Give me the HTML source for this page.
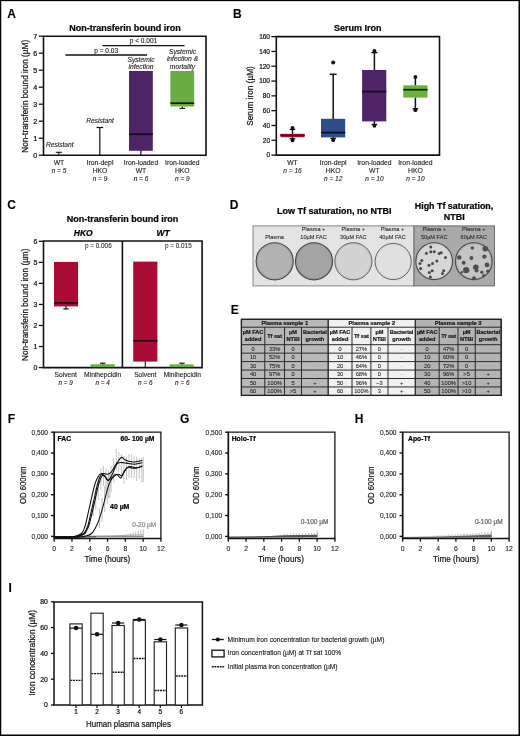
<!DOCTYPE html>
<html><head><meta charset="utf-8"><title>Figure</title>
<style>
html,body{margin:0;padding:0;background:#fff;}
body{width:520px;height:736px;overflow:hidden;position:relative;font-family:"Liberation Sans",sans-serif;}
svg{position:absolute;left:0;top:0;display:block;}
svg text{font-family:"Liberation Sans",sans-serif;}
#frame{position:absolute;left:0;top:0;width:520px;height:736px;box-sizing:border-box;border-style:solid;border-color:#000;border-width:1.2px 1.6px 1.7px 1.35px;pointer-events:none;}
</style></head><body>
<svg width="520" height="736" viewBox="0 0 520 736" style="filter:blur(0.35px)">
<!-- Panel A -->
<text x="7.3" y="17.6" font-size="12" text-anchor="start" fill="#000" stroke="#000" stroke-width="0.1" font-weight="bold" >A</text>
<text x="125.0" y="30.7" font-size="9" text-anchor="middle" fill="#000" stroke="#000" stroke-width="0.22" font-weight="bold" >Non-transferin bound iron</text>
<path d="M43.5 36.3H206V155.2H43.5Z" fill="none" stroke="#111" stroke-width="1.6"/>
<line x1="38.8" y1="155.2" x2="43.5" y2="155.2" stroke="#111" stroke-width="1.3" />
<text x="37.3" y="157.79999999999998" font-size="7.2" text-anchor="end" fill="#111" stroke="#111" stroke-width="0.22" >0</text>
<line x1="38.8" y1="138.2" x2="43.5" y2="138.2" stroke="#111" stroke-width="1.3" />
<text x="37.3" y="140.79999999999998" font-size="7.2" text-anchor="end" fill="#111" stroke="#111" stroke-width="0.22" >1</text>
<line x1="38.8" y1="121.19999999999999" x2="43.5" y2="121.19999999999999" stroke="#111" stroke-width="1.3" />
<text x="37.3" y="123.79999999999998" font-size="7.2" text-anchor="end" fill="#111" stroke="#111" stroke-width="0.22" >2</text>
<line x1="38.8" y1="104.19999999999999" x2="43.5" y2="104.19999999999999" stroke="#111" stroke-width="1.3" />
<text x="37.3" y="106.79999999999998" font-size="7.2" text-anchor="end" fill="#111" stroke="#111" stroke-width="0.22" >3</text>
<line x1="38.8" y1="87.19999999999999" x2="43.5" y2="87.19999999999999" stroke="#111" stroke-width="1.3" />
<text x="37.3" y="89.79999999999998" font-size="7.2" text-anchor="end" fill="#111" stroke="#111" stroke-width="0.22" >4</text>
<line x1="38.8" y1="70.19999999999999" x2="43.5" y2="70.19999999999999" stroke="#111" stroke-width="1.3" />
<text x="37.3" y="72.79999999999998" font-size="7.2" text-anchor="end" fill="#111" stroke="#111" stroke-width="0.22" >5</text>
<line x1="38.8" y1="53.19999999999999" x2="43.5" y2="53.19999999999999" stroke="#111" stroke-width="1.3" />
<text x="37.3" y="55.79999999999999" font-size="7.2" text-anchor="end" fill="#111" stroke="#111" stroke-width="0.22" >6</text>
<line x1="38.8" y1="36.19999999999999" x2="43.5" y2="36.19999999999999" stroke="#111" stroke-width="1.3" />
<text x="37.3" y="38.79999999999999" font-size="7.2" text-anchor="end" fill="#111" stroke="#111" stroke-width="0.22" >7</text>
<text x="27.6" y="96.3" font-size="9.3" text-anchor="middle" fill="#111" stroke="#111" stroke-width="0.22" transform="rotate(-90 27.6 96.3)" textLength="113" lengthAdjust="spacingAndGlyphs" >Non-transferin bound iron (µM)</text>
<line x1="102.5" y1="45.6" x2="184.5" y2="45.6" stroke="#111" stroke-width="1.4" />
<line x1="65.4" y1="55.0" x2="147" y2="55.0" stroke="#111" stroke-width="1.4" />
<text x="143.5" y="43.1" font-size="6.5" text-anchor="middle" fill="#222" stroke="#222" stroke-width="0.12" >p &lt; 0.001</text>
<text x="106.2" y="53.0" font-size="6.5" text-anchor="middle" fill="#222" stroke="#222" stroke-width="0.12" >p = 0.03</text>
<text x="141" y="61.7" font-size="6.7" text-anchor="middle" fill="#222" stroke="#222" stroke-width="0.12" font-style="italic" >Systemic</text>
<text x="141" y="68.9" font-size="6.7" text-anchor="middle" fill="#222" stroke="#222" stroke-width="0.12" font-style="italic" >infection</text>
<text x="182.5" y="53.6" font-size="6.7" text-anchor="middle" fill="#222" stroke="#222" stroke-width="0.12" font-style="italic" >Systemic</text>
<text x="182.5" y="61.1" font-size="6.7" text-anchor="middle" fill="#222" stroke="#222" stroke-width="0.12" font-style="italic" >infection &amp;</text>
<text x="182.5" y="68.9" font-size="6.7" text-anchor="middle" fill="#222" stroke="#222" stroke-width="0.12" font-style="italic" >mortality</text>
<text x="59.8" y="147.3" font-size="6.6" text-anchor="middle" fill="#222" stroke="#222" stroke-width="0.12" font-style="italic" >Resistant</text>
<text x="100" y="122.6" font-size="6.6" text-anchor="middle" fill="#222" stroke="#222" stroke-width="0.12" font-style="italic" >Resistant</text>
<line x1="58.8" y1="152.3" x2="58.8" y2="155" stroke="#111" stroke-width="1.1" />
<line x1="55.8" y1="152.3" x2="61.8" y2="152.3" stroke="#111" stroke-width="1.1" />
<line x1="99.8" y1="127.5" x2="99.8" y2="155" stroke="#111" stroke-width="1.2" />
<line x1="96.5" y1="127.5" x2="103.2" y2="127.5" stroke="#111" stroke-width="1.2" />
<line x1="140.9" y1="150" x2="140.9" y2="155" stroke="#111" stroke-width="1.2" />
<rect x="129" y="71" width="23.8" height="79.8" fill="#4f2467" />
<line x1="129" y1="134.2" x2="152.8" y2="134.2" stroke="#160820" stroke-width="1.7" />
<rect x="170.4" y="71" width="23.8" height="35.5" fill="#6aad43" />
<line x1="170.4" y1="103.2" x2="194.2" y2="103.2" stroke="#0c1a08" stroke-width="1.7" />
<line x1="182.3" y1="106.5" x2="182.3" y2="108.4" stroke="#111" stroke-width="1.1" />
<line x1="179.6" y1="108.4" x2="185" y2="108.4" stroke="#111" stroke-width="1.1" />
<text x="59" y="164.6" font-size="6.8" text-anchor="middle" fill="#222" stroke="#222" stroke-width="0.12" >WT</text>
<text x="59" y="172.7" font-size="6.5" text-anchor="middle" fill="#222" stroke="#222" stroke-width="0.12" font-style="italic" >n = 5</text>
<text x="100" y="164.6" font-size="6.8" text-anchor="middle" fill="#222" stroke="#222" stroke-width="0.12" >Iron-depl</text>
<text x="100" y="172.7" font-size="6.8" text-anchor="middle" fill="#222" stroke="#222" stroke-width="0.12" >HKO</text>
<text x="100" y="180.79999999999998" font-size="6.5" text-anchor="middle" fill="#222" stroke="#222" stroke-width="0.12" font-style="italic" >n = 9</text>
<text x="141" y="164.6" font-size="6.8" text-anchor="middle" fill="#222" stroke="#222" stroke-width="0.12" >Iron-loaded</text>
<text x="141" y="172.7" font-size="6.8" text-anchor="middle" fill="#222" stroke="#222" stroke-width="0.12" >WT</text>
<text x="141" y="180.79999999999998" font-size="6.5" text-anchor="middle" fill="#222" stroke="#222" stroke-width="0.12" font-style="italic" >n = 6</text>
<text x="182.3" y="164.6" font-size="6.8" text-anchor="middle" fill="#222" stroke="#222" stroke-width="0.12" >Iron-loaded</text>
<text x="182.3" y="172.7" font-size="6.8" text-anchor="middle" fill="#222" stroke="#222" stroke-width="0.12" >HKO</text>
<text x="182.3" y="180.79999999999998" font-size="6.5" text-anchor="middle" fill="#222" stroke="#222" stroke-width="0.12" font-style="italic" >n = 9</text>
<!-- Panel B -->
<text x="233.1" y="17.7" font-size="12" text-anchor="start" fill="#000" stroke="#000" stroke-width="0.1" font-weight="bold" >B</text>
<text x="357.8" y="30.6" font-size="9" text-anchor="middle" fill="#000" stroke="#000" stroke-width="0.22" font-weight="bold" >Serum Iron</text>
<path d="M276.3 36.6H439.5V155.1H276.3Z" fill="none" stroke="#111" stroke-width="1.6"/>
<line x1="271.4" y1="155.1" x2="276.3" y2="155.1" stroke="#111" stroke-width="1.3" />
<text x="270.0" y="157.4" font-size="6.5" text-anchor="end" fill="#111" stroke="#111" stroke-width="0.22" >0</text>
<line x1="271.4" y1="140.29" x2="276.3" y2="140.29" stroke="#111" stroke-width="1.3" />
<text x="270.0" y="142.59" font-size="6.5" text-anchor="end" fill="#111" stroke="#111" stroke-width="0.22" >20</text>
<line x1="271.4" y1="125.47999999999999" x2="276.3" y2="125.47999999999999" stroke="#111" stroke-width="1.3" />
<text x="270.0" y="127.77999999999999" font-size="6.5" text-anchor="end" fill="#111" stroke="#111" stroke-width="0.22" >40</text>
<line x1="271.4" y1="110.66999999999999" x2="276.3" y2="110.66999999999999" stroke="#111" stroke-width="1.3" />
<text x="270.0" y="112.96999999999998" font-size="6.5" text-anchor="end" fill="#111" stroke="#111" stroke-width="0.22" >60</text>
<line x1="271.4" y1="95.85999999999999" x2="276.3" y2="95.85999999999999" stroke="#111" stroke-width="1.3" />
<text x="270.0" y="98.15999999999998" font-size="6.5" text-anchor="end" fill="#111" stroke="#111" stroke-width="0.22" >80</text>
<line x1="271.4" y1="81.05" x2="276.3" y2="81.05" stroke="#111" stroke-width="1.3" />
<text x="270.0" y="83.35" font-size="6.5" text-anchor="end" fill="#111" stroke="#111" stroke-width="0.22" >100</text>
<line x1="271.4" y1="66.24" x2="276.3" y2="66.24" stroke="#111" stroke-width="1.3" />
<text x="270.0" y="68.53999999999999" font-size="6.5" text-anchor="end" fill="#111" stroke="#111" stroke-width="0.22" >120</text>
<line x1="271.4" y1="51.42999999999999" x2="276.3" y2="51.42999999999999" stroke="#111" stroke-width="1.3" />
<text x="270.0" y="53.72999999999999" font-size="6.5" text-anchor="end" fill="#111" stroke="#111" stroke-width="0.22" >140</text>
<line x1="271.4" y1="36.61999999999999" x2="276.3" y2="36.61999999999999" stroke="#111" stroke-width="1.3" />
<text x="270.0" y="38.91999999999999" font-size="6.5" text-anchor="end" fill="#111" stroke="#111" stroke-width="0.22" >160</text>
<text x="253.2" y="96" font-size="9.3" text-anchor="middle" fill="#111" stroke="#111" stroke-width="0.22" transform="rotate(-90 253.2 96)" textLength="59.5" lengthAdjust="spacingAndGlyphs" >Serum iron (µM)</text>
<line x1="292.5" y1="128.5" x2="292.5" y2="140" stroke="#111" stroke-width="1.4" />
<line x1="289.7" y1="129.4" x2="295.3" y2="129.4" stroke="#111" stroke-width="1.4" />
<line x1="289.7" y1="138.8" x2="295.3" y2="138.8" stroke="#111" stroke-width="1.4" />
<circle cx="292.5" cy="127.8" r="1.9" fill="#111"/>
<circle cx="292.5" cy="140.4" r="1.9" fill="#111"/>
<rect x="280.4" y="133.8" width="24.2" height="3.4" fill="#ab0c36" />
<line x1="280.4" y1="135.4" x2="304.6" y2="135.4" stroke="#2a0410" stroke-width="1.3" />
<line x1="333.2" y1="74.3" x2="333.2" y2="119" stroke="#111" stroke-width="1.5" />
<line x1="329.8" y1="74.3" x2="336.6" y2="74.3" stroke="#111" stroke-width="1.5" />
<circle cx="333.2" cy="62.5" r="2.0" fill="#111"/>
<line x1="333.2" y1="137" x2="333.2" y2="139.5" stroke="#111" stroke-width="1.4" />
<line x1="330.4" y1="138.5" x2="336" y2="138.5" stroke="#111" stroke-width="1.4" />
<circle cx="333.2" cy="140.2" r="1.9" fill="#111"/>
<rect x="321" y="118.8" width="24.2" height="18.6" fill="#2c4d8b" />
<line x1="321" y1="132.6" x2="345.2" y2="132.6" stroke="#070d1c" stroke-width="1.7" />
<line x1="374.4" y1="51.5" x2="374.4" y2="70" stroke="#111" stroke-width="1.5" />
<line x1="371.4" y1="52.6" x2="377.4" y2="52.6" stroke="#111" stroke-width="1.4" />
<circle cx="374.4" cy="51" r="2.0" fill="#111"/>
<line x1="374.4" y1="121" x2="374.4" y2="125" stroke="#111" stroke-width="1.4" />
<line x1="371.6" y1="124.5" x2="377.2" y2="124.5" stroke="#111" stroke-width="1.4" />
<circle cx="374.4" cy="125.8" r="1.9" fill="#111"/>
<rect x="362.1" y="70" width="24.2" height="51.4" fill="#4f2467" />
<line x1="362.1" y1="91.6" x2="386.3" y2="91.6" stroke="#160820" stroke-width="1.7" />
<line x1="415.4" y1="77" x2="415.4" y2="85.5" stroke="#111" stroke-width="1.5" />
<circle cx="415.4" cy="76.9" r="1.9" fill="#111"/>
<line x1="415.4" y1="97.5" x2="415.4" y2="109.5" stroke="#111" stroke-width="1.5" />
<line x1="412.6" y1="108.8" x2="418.2" y2="108.8" stroke="#111" stroke-width="1.4" />
<circle cx="415.4" cy="110.2" r="1.9" fill="#111"/>
<rect x="403.3" y="85.3" width="24.2" height="12.3" fill="#6bb23a" />
<line x1="403.3" y1="89.7" x2="427.5" y2="89.7" stroke="#0c1a08" stroke-width="1.7" />
<text x="292.5" y="164.6" font-size="6.8" text-anchor="middle" fill="#222" stroke="#222" stroke-width="0.12" >WT</text>
<text x="292.5" y="172.7" font-size="6.5" text-anchor="middle" fill="#222" stroke="#222" stroke-width="0.12" font-style="italic" >n = 16</text>
<text x="333.2" y="164.6" font-size="6.8" text-anchor="middle" fill="#222" stroke="#222" stroke-width="0.12" >Iron-depl</text>
<text x="333.2" y="172.7" font-size="6.8" text-anchor="middle" fill="#222" stroke="#222" stroke-width="0.12" >HKO</text>
<text x="333.2" y="180.79999999999998" font-size="6.5" text-anchor="middle" fill="#222" stroke="#222" stroke-width="0.12" font-style="italic" >n = 12</text>
<text x="374.4" y="164.6" font-size="6.8" text-anchor="middle" fill="#222" stroke="#222" stroke-width="0.12" >Iron-loaded</text>
<text x="374.4" y="172.7" font-size="6.8" text-anchor="middle" fill="#222" stroke="#222" stroke-width="0.12" >WT</text>
<text x="374.4" y="180.79999999999998" font-size="6.5" text-anchor="middle" fill="#222" stroke="#222" stroke-width="0.12" font-style="italic" >n = 10</text>
<text x="415.4" y="164.6" font-size="6.8" text-anchor="middle" fill="#222" stroke="#222" stroke-width="0.12" >Iron-loaded</text>
<text x="415.4" y="172.7" font-size="6.8" text-anchor="middle" fill="#222" stroke="#222" stroke-width="0.12" >HKO</text>
<text x="415.4" y="180.79999999999998" font-size="6.5" text-anchor="middle" fill="#222" stroke="#222" stroke-width="0.12" font-style="italic" >n = 10</text>
<!-- Panel C -->
<text x="7.2" y="208.8" font-size="12" text-anchor="start" fill="#000" stroke="#000" stroke-width="0.1" font-weight="bold" >C</text>
<text x="122.5" y="222.3" font-size="9" text-anchor="middle" fill="#000" stroke="#000" stroke-width="0.22" font-weight="bold" >Non-transferin bound iron</text>
<text x="83.3" y="236" font-size="8.5" text-anchor="middle" fill="#000" stroke="#000" stroke-width="0.22" font-weight="bold" font-style="italic" >HKO</text>
<text x="163" y="236" font-size="8.5" text-anchor="middle" fill="#000" stroke="#000" stroke-width="0.22" font-weight="bold" font-style="italic" >WT</text>
<path d="M43.5 241.0H202.1V367.6H43.5Z" fill="none" stroke="#111" stroke-width="1.6"/>
<line x1="122.4" y1="241.0" x2="122.4" y2="367.6" stroke="#111" stroke-width="1.6" />
<line x1="38.8" y1="367.6" x2="43.5" y2="367.6" stroke="#111" stroke-width="1.3" />
<text x="37.3" y="370.1" font-size="7.0" text-anchor="end" fill="#111" stroke="#111" stroke-width="0.22" >0</text>
<line x1="38.8" y1="346.55" x2="43.5" y2="346.55" stroke="#111" stroke-width="1.3" />
<text x="37.3" y="349.05" font-size="7.0" text-anchor="end" fill="#111" stroke="#111" stroke-width="0.22" >1</text>
<line x1="38.8" y1="325.5" x2="43.5" y2="325.5" stroke="#111" stroke-width="1.3" />
<text x="37.3" y="328.0" font-size="7.0" text-anchor="end" fill="#111" stroke="#111" stroke-width="0.22" >2</text>
<line x1="38.8" y1="304.45" x2="43.5" y2="304.45" stroke="#111" stroke-width="1.3" />
<text x="37.3" y="306.95" font-size="7.0" text-anchor="end" fill="#111" stroke="#111" stroke-width="0.22" >3</text>
<line x1="38.8" y1="283.4" x2="43.5" y2="283.4" stroke="#111" stroke-width="1.3" />
<text x="37.3" y="285.9" font-size="7.0" text-anchor="end" fill="#111" stroke="#111" stroke-width="0.22" >4</text>
<line x1="38.8" y1="262.35" x2="43.5" y2="262.35" stroke="#111" stroke-width="1.3" />
<text x="37.3" y="264.85" font-size="7.0" text-anchor="end" fill="#111" stroke="#111" stroke-width="0.22" >5</text>
<line x1="38.8" y1="241.3" x2="43.5" y2="241.3" stroke="#111" stroke-width="1.3" />
<text x="37.3" y="243.8" font-size="7.0" text-anchor="end" fill="#111" stroke="#111" stroke-width="0.22" >6</text>
<text x="27.6" y="304.8" font-size="9.3" text-anchor="middle" fill="#111" stroke="#111" stroke-width="0.22" transform="rotate(-90 27.6 304.8)" textLength="112.5" lengthAdjust="spacingAndGlyphs" >Non-transferin bound iron (µm)</text>
<text x="98.3" y="247.8" font-size="6.4" text-anchor="middle" fill="#2a2a2a" stroke="#2a2a2a" stroke-width="0.08" >p = 0.006</text>
<text x="178.3" y="247.8" font-size="6.4" text-anchor="middle" fill="#2a2a2a" stroke="#2a2a2a" stroke-width="0.08" >p = 0.015</text>
<line x1="66" y1="306" x2="66" y2="308.9" stroke="#111" stroke-width="1.2" />
<line x1="63.4" y1="308.9" x2="68.6" y2="308.9" stroke="#111" stroke-width="1.2" />
<rect x="54.0" y="261.9" width="24.1" height="44.5" fill="#ab0c36" />
<line x1="54.0" y1="302.9" x2="78.1" y2="302.9" stroke="#2a0410" stroke-width="1.8" />
<line x1="102.7" y1="363.2" x2="102.7" y2="365" stroke="#111" stroke-width="1.1" />
<line x1="100" y1="363.2" x2="105.4" y2="363.2" stroke="#111" stroke-width="1.2" />
<rect x="90.6" y="364.3" width="24.2" height="2.8" fill="#6aad43" />
<line x1="145.3" y1="361" x2="145.3" y2="367" stroke="#111" stroke-width="1.1" />
<rect x="133.2" y="261.6" width="24.2" height="100" fill="#ab0c36" />
<line x1="133.2" y1="340.8" x2="157.4" y2="340.8" stroke="#2a0410" stroke-width="1.7" />
<line x1="182" y1="363.2" x2="182" y2="365" stroke="#111" stroke-width="1.1" />
<line x1="179.3" y1="363.2" x2="184.7" y2="363.2" stroke="#111" stroke-width="1.2" />
<rect x="169.5" y="364.4" width="24.2" height="2.7" fill="#6aad43" />
<text x="65.7" y="376.6" font-size="6.7" text-anchor="middle" fill="#222" stroke="#222" stroke-width="0.12" >Solvent</text>
<text x="65.7" y="384.8" font-size="6.4" text-anchor="middle" fill="#222" stroke="#222" stroke-width="0.12" font-style="italic" >n = 9</text>
<text x="102.7" y="376.6" font-size="6.7" text-anchor="middle" fill="#222" stroke="#222" stroke-width="0.12" >Minihepcidin</text>
<text x="102.7" y="384.8" font-size="6.4" text-anchor="middle" fill="#222" stroke="#222" stroke-width="0.12" font-style="italic" >n = 4</text>
<text x="145.3" y="376.6" font-size="6.7" text-anchor="middle" fill="#222" stroke="#222" stroke-width="0.12" >Solvent</text>
<text x="145.3" y="384.8" font-size="6.4" text-anchor="middle" fill="#222" stroke="#222" stroke-width="0.12" font-style="italic" >n = 6</text>
<text x="182.3" y="376.6" font-size="6.7" text-anchor="middle" fill="#222" stroke="#222" stroke-width="0.12" >Minihepcidin</text>
<text x="182.3" y="384.8" font-size="6.4" text-anchor="middle" fill="#222" stroke="#222" stroke-width="0.12" font-style="italic" >n = 6</text>
<!-- Panel D -->
<text x="229.8" y="208.6" font-size="12" text-anchor="start" fill="#000" stroke="#000" stroke-width="0.1" font-weight="bold" >D</text>
<text x="334.2" y="214.4" font-size="9" text-anchor="middle" fill="#000" stroke="#000" stroke-width="0.22" font-weight="bold" >Low Tf saturation, no NTBI</text>
<text x="454.0" y="208.9" font-size="8.9" text-anchor="middle" fill="#000" stroke="#000" stroke-width="0.22" font-weight="bold" >High Tf saturation,</text>
<text x="454.3" y="219.8" font-size="9" text-anchor="middle" fill="#000" stroke="#000" stroke-width="0.22" font-weight="bold" >NTBI</text>
<rect x="253" y="225.9" width="161" height="60" fill="#e3e3e3" stroke="#858585" stroke-width="1" />
<rect x="414" y="225.9" width="80.5" height="60" fill="#a9a9a9" stroke="#6a6a6a" stroke-width="1" />
<defs><filter id="bl" x="-20%" y="-20%" width="140%" height="140%"><feGaussianBlur stdDeviation="0.45"/></filter></defs>
<radialGradient id="dg0" cx="50%" cy="50%" r="50%"><stop offset="0" stop-color="#b3b3b3"/><stop offset="0.86" stop-color="#b3b3b3"/><stop offset="1" stop-color="#9c9c9c"/></radialGradient>
<circle cx="274.7" cy="261.3" r="18.6" fill="url(#dg0)" stroke="#4a4a4a" stroke-width="1.1"/>
<radialGradient id="dg1" cx="50%" cy="50%" r="50%"><stop offset="0" stop-color="#a5a5a5"/><stop offset="0.86" stop-color="#a5a5a5"/><stop offset="1" stop-color="#8e8e8e"/></radialGradient>
<circle cx="314.0" cy="261.3" r="18.6" fill="url(#dg1)" stroke="#4a4a4a" stroke-width="1.1"/>
<radialGradient id="dg2" cx="50%" cy="50%" r="50%"><stop offset="0" stop-color="#d3d3d3"/><stop offset="0.86" stop-color="#d3d3d3"/><stop offset="1" stop-color="#bcbcbc"/></radialGradient>
<circle cx="353.4" cy="261.3" r="18.6" fill="url(#dg2)" stroke="#5e5e5e" stroke-width="0.95"/>
<radialGradient id="dg3" cx="50%" cy="50%" r="50%"><stop offset="0" stop-color="#e0e0e0"/><stop offset="0.86" stop-color="#e0e0e0"/><stop offset="1" stop-color="#d2d2d2"/></radialGradient>
<circle cx="393.2" cy="261.5" r="18.1" fill="url(#dg3)" stroke="#5e5e5e" stroke-width="0.95"/>
<radialGradient id="dg4" cx="50%" cy="50%" r="50%"><stop offset="0" stop-color="#d7d7d7"/><stop offset="0.86" stop-color="#d7d7d7"/><stop offset="1" stop-color="#c2c2c2"/></radialGradient>
<circle cx="434.2" cy="261.2" r="18.4" fill="url(#dg4)" stroke="#4a4a4a" stroke-width="1.1"/>
<radialGradient id="dg5" cx="50%" cy="50%" r="50%"><stop offset="0" stop-color="#c4c4c4"/><stop offset="0.86" stop-color="#c4c4c4"/><stop offset="1" stop-color="#a8a8a8"/></radialGradient>
<circle cx="473.8" cy="261.2" r="18.4" fill="url(#dg5)" stroke="#4a4a4a" stroke-width="1.1"/>
<g filter="url(#bl)">
<circle cx="430.8" cy="247.1" r="1.5" fill="#484848"/>
<circle cx="426.4" cy="253.2" r="1.5" fill="#484848"/>
<circle cx="430.8" cy="251.8" r="1.5" fill="#484848"/>
<circle cx="434.2" cy="251.8" r="1.5" fill="#484848"/>
<circle cx="439.1" cy="253.5" r="1.5" fill="#484848"/>
<circle cx="441.2" cy="252.8" r="1.5" fill="#484848"/>
<circle cx="445.5" cy="257.5" r="1.5" fill="#484848"/>
<circle cx="436.8" cy="260.9" r="1.5" fill="#484848"/>
<circle cx="432.5" cy="263.5" r="1.5" fill="#484848"/>
<circle cx="429.0" cy="265.3" r="1.5" fill="#484848"/>
<circle cx="421.8" cy="260.4" r="1.5" fill="#484848"/>
<circle cx="420.0" cy="263.5" r="1.5" fill="#484848"/>
<circle cx="420.7" cy="268.4" r="1.5" fill="#484848"/>
<circle cx="432.2" cy="270.8" r="1.5" fill="#484848"/>
<circle cx="429.4" cy="272.5" r="1.5" fill="#484848"/>
<circle cx="443.7" cy="270.8" r="1.5" fill="#484848"/>
<circle cx="442.5" cy="273.6" r="1.5" fill="#484848"/>
<circle cx="430.4" cy="277.0" r="1.5" fill="#484848"/>
<circle cx="472.3" cy="248.0" r="1.79" fill="#505050"/>
<circle cx="485.3" cy="248.8" r="2.79" fill="#505050"/>
<circle cx="459.3" cy="257.5" r="2.19" fill="#505050"/>
<circle cx="471.4" cy="258.0" r="1.99" fill="#505050"/>
<circle cx="484.4" cy="256.6" r="2.19" fill="#505050"/>
<circle cx="463.7" cy="262.7" r="1.99" fill="#505050"/>
<circle cx="487.0" cy="264.9" r="2.39" fill="#505050"/>
<circle cx="475.8" cy="267.3" r="2.79" fill="#505050"/>
<circle cx="466.2" cy="270.1" r="3.18" fill="#505050"/>
<circle cx="476.6" cy="270.5" r="1.99" fill="#505050"/>
<circle cx="461.9" cy="272.2" r="1.19" fill="#505050"/>
<circle cx="481.8" cy="272.2" r="1.59" fill="#505050"/>
<circle cx="487.9" cy="271.3" r="1.79" fill="#505050"/>
<circle cx="474.0" cy="278.2" r="1.99" fill="#505050"/>
<circle cx="483.6" cy="275.7" r="1.59" fill="#505050"/>
</g>
<text x="274.6" y="238.7" font-size="5.6" text-anchor="middle" fill="#2c2c2c" stroke="#2c2c2c" stroke-width="0.1" >Plasma</text>
<text x="313.6" y="231.4" font-size="5.6" text-anchor="middle" fill="#2c2c2c" stroke="#2c2c2c" stroke-width="0.1" >Plasma +</text>
<text x="313.6" y="238.7" font-size="5.6" text-anchor="middle" fill="#2c2c2c" stroke="#2c2c2c" stroke-width="0.1" >10µM FAC</text>
<text x="353.3" y="231.4" font-size="5.6" text-anchor="middle" fill="#2c2c2c" stroke="#2c2c2c" stroke-width="0.1" >Plasma +</text>
<text x="353.3" y="238.7" font-size="5.6" text-anchor="middle" fill="#2c2c2c" stroke="#2c2c2c" stroke-width="0.1" >30µM FAC</text>
<text x="392.5" y="231.4" font-size="5.6" text-anchor="middle" fill="#2c2c2c" stroke="#2c2c2c" stroke-width="0.1" >Plasma +</text>
<text x="392.5" y="238.7" font-size="5.6" text-anchor="middle" fill="#2c2c2c" stroke="#2c2c2c" stroke-width="0.1" >40µM FAC</text>
<text x="434.2" y="231.4" font-size="5.6" text-anchor="middle" fill="#2c2c2c" stroke="#2c2c2c" stroke-width="0.1" >Plasma +</text>
<text x="434.2" y="238.7" font-size="5.6" text-anchor="middle" fill="#2c2c2c" stroke="#2c2c2c" stroke-width="0.1" >50µM FAC</text>
<text x="473.8" y="231.4" font-size="5.6" text-anchor="middle" fill="#2c2c2c" stroke="#2c2c2c" stroke-width="0.1" >Plasma +</text>
<text x="473.8" y="238.7" font-size="5.6" text-anchor="middle" fill="#2c2c2c" stroke="#2c2c2c" stroke-width="0.1" >60µM FAC</text>
<!-- Panel E -->
<text x="230.7" y="314.0" font-size="12" text-anchor="start" fill="#000" stroke="#000" stroke-width="0.1" font-weight="bold" >E</text>
<rect x="241.4" y="319.3" width="86.79999999999998" height="76.09999999999997" fill="#b9b9b9" />
<rect x="328.2" y="319.3" width="87.10000000000002" height="76.09999999999997" fill="#f1f1f1" />
<rect x="415.3" y="319.3" width="85.89999999999998" height="76.09999999999997" fill="#b3b3b3" />
<line x1="241.4" y1="319.3" x2="328.2" y2="319.3" stroke="#2a2a2a" stroke-width="1.0" />
<line x1="241.4" y1="327.2" x2="328.2" y2="327.2" stroke="#2a2a2a" stroke-width="1.0" />
<line x1="241.4" y1="344.7" x2="328.2" y2="344.7" stroke="#2a2a2a" stroke-width="1.0" />
<line x1="241.4" y1="353.15" x2="328.2" y2="353.15" stroke="#2a2a2a" stroke-width="1.0" />
<line x1="241.4" y1="361.6" x2="328.2" y2="361.6" stroke="#2a2a2a" stroke-width="1.0" />
<line x1="241.4" y1="370.05" x2="328.2" y2="370.05" stroke="#2a2a2a" stroke-width="1.0" />
<line x1="241.4" y1="378.5" x2="328.2" y2="378.5" stroke="#2a2a2a" stroke-width="1.0" />
<line x1="241.4" y1="386.95" x2="328.2" y2="386.95" stroke="#2a2a2a" stroke-width="1.0" />
<line x1="241.4" y1="395.4" x2="328.2" y2="395.4" stroke="#2a2a2a" stroke-width="1.0" />
<line x1="241.4" y1="319.3" x2="241.4" y2="395.4" stroke="#2a2a2a" stroke-width="1.0" />
<line x1="264.8" y1="327.2" x2="264.8" y2="395.4" stroke="#2a2a2a" stroke-width="1.0" />
<line x1="284.5" y1="327.2" x2="284.5" y2="395.4" stroke="#2a2a2a" stroke-width="1.0" />
<line x1="301.5" y1="327.2" x2="301.5" y2="395.4" stroke="#2a2a2a" stroke-width="1.0" />
<line x1="328.2" y1="319.3" x2="328.2" y2="395.4" stroke="#2a2a2a" stroke-width="1.0" />
<line x1="328.2" y1="319.3" x2="415.3" y2="319.3" stroke="#2a2a2a" stroke-width="1.0" />
<line x1="328.2" y1="327.2" x2="415.3" y2="327.2" stroke="#2a2a2a" stroke-width="1.0" />
<line x1="328.2" y1="344.7" x2="415.3" y2="344.7" stroke="#2a2a2a" stroke-width="1.0" />
<line x1="328.2" y1="353.15" x2="415.3" y2="353.15" stroke="#2a2a2a" stroke-width="1.0" />
<line x1="328.2" y1="361.6" x2="415.3" y2="361.6" stroke="#2a2a2a" stroke-width="1.0" />
<line x1="328.2" y1="370.05" x2="415.3" y2="370.05" stroke="#2a2a2a" stroke-width="1.0" />
<line x1="328.2" y1="378.5" x2="415.3" y2="378.5" stroke="#2a2a2a" stroke-width="1.0" />
<line x1="328.2" y1="386.95" x2="415.3" y2="386.95" stroke="#2a2a2a" stroke-width="1.0" />
<line x1="328.2" y1="395.4" x2="415.3" y2="395.4" stroke="#2a2a2a" stroke-width="1.0" />
<line x1="328.2" y1="319.3" x2="328.2" y2="395.4" stroke="#2a2a2a" stroke-width="1.0" />
<line x1="352.0" y1="327.2" x2="352.0" y2="395.4" stroke="#2a2a2a" stroke-width="1.0" />
<line x1="370.9" y1="327.2" x2="370.9" y2="395.4" stroke="#2a2a2a" stroke-width="1.0" />
<line x1="388.0" y1="327.2" x2="388.0" y2="395.4" stroke="#2a2a2a" stroke-width="1.0" />
<line x1="415.3" y1="319.3" x2="415.3" y2="395.4" stroke="#2a2a2a" stroke-width="1.0" />
<line x1="415.3" y1="319.3" x2="501.2" y2="319.3" stroke="#2a2a2a" stroke-width="1.0" />
<line x1="415.3" y1="327.2" x2="501.2" y2="327.2" stroke="#2a2a2a" stroke-width="1.0" />
<line x1="415.3" y1="344.7" x2="501.2" y2="344.7" stroke="#2a2a2a" stroke-width="1.0" />
<line x1="415.3" y1="353.15" x2="501.2" y2="353.15" stroke="#2a2a2a" stroke-width="1.0" />
<line x1="415.3" y1="361.6" x2="501.2" y2="361.6" stroke="#2a2a2a" stroke-width="1.0" />
<line x1="415.3" y1="370.05" x2="501.2" y2="370.05" stroke="#2a2a2a" stroke-width="1.0" />
<line x1="415.3" y1="378.5" x2="501.2" y2="378.5" stroke="#2a2a2a" stroke-width="1.0" />
<line x1="415.3" y1="386.95" x2="501.2" y2="386.95" stroke="#2a2a2a" stroke-width="1.0" />
<line x1="415.3" y1="395.4" x2="501.2" y2="395.4" stroke="#2a2a2a" stroke-width="1.0" />
<line x1="415.3" y1="319.3" x2="415.3" y2="395.4" stroke="#2a2a2a" stroke-width="1.0" />
<line x1="439.2" y1="327.2" x2="439.2" y2="395.4" stroke="#2a2a2a" stroke-width="1.0" />
<line x1="458.0" y1="327.2" x2="458.0" y2="395.4" stroke="#2a2a2a" stroke-width="1.0" />
<line x1="475.3" y1="327.2" x2="475.3" y2="395.4" stroke="#2a2a2a" stroke-width="1.0" />
<line x1="501.2" y1="319.3" x2="501.2" y2="395.4" stroke="#2a2a2a" stroke-width="1.0" />
<rect x="241.4" y="319.3" width="259.79999999999995" height="76.1" fill="none" stroke="#222" stroke-width="1.3" />
<text x="284.8" y="325.4" font-size="5.8" text-anchor="middle" fill="#1a1a1a" stroke="#1a1a1a" stroke-width="0.22" font-weight="bold" >Plasma sample 1</text>
<text x="253.1" y="334.4" font-size="5.6" text-anchor="middle" fill="#1a1a1a" stroke="#1a1a1a" stroke-width="0.22" font-weight="bold" >µM FAC</text>
<text x="253.1" y="341.3" font-size="5.6" text-anchor="middle" fill="#1a1a1a" stroke="#1a1a1a" stroke-width="0.22" font-weight="bold" >added</text>
<text x="274.6" y="338.0" font-size="5.6" text-anchor="middle" fill="#1a1a1a" stroke="#1a1a1a" stroke-width="0.22" font-weight="bold" >Tf sat</text>
<text x="293.0" y="334.4" font-size="5.6" text-anchor="middle" fill="#1a1a1a" stroke="#1a1a1a" stroke-width="0.22" font-weight="bold" >µM</text>
<text x="293.0" y="341.3" font-size="5.6" text-anchor="middle" fill="#1a1a1a" stroke="#1a1a1a" stroke-width="0.22" font-weight="bold" >NTBI</text>
<text x="314.9" y="334.4" font-size="5.6" text-anchor="middle" fill="#1a1a1a" stroke="#1a1a1a" stroke-width="0.22" font-weight="bold" >Bacterial</text>
<text x="314.9" y="341.3" font-size="5.6" text-anchor="middle" fill="#1a1a1a" stroke="#1a1a1a" stroke-width="0.22" font-weight="bold" >growth</text>
<text x="253.1" y="351.0" font-size="5.7" text-anchor="middle" fill="#222" stroke="#222" stroke-width="0.08" >0</text>
<text x="274.6" y="351.0" font-size="5.7" text-anchor="middle" fill="#222" stroke="#222" stroke-width="0.08" >33%</text>
<text x="293.0" y="351.0" font-size="5.7" text-anchor="middle" fill="#222" stroke="#222" stroke-width="0.08" >0</text>
<text x="314.9" y="351.0" font-size="5.7" text-anchor="middle" fill="#8a8a8a" stroke="#8a8a8a" stroke-width="0" >-</text>
<text x="253.1" y="359.4" font-size="5.7" text-anchor="middle" fill="#222" stroke="#222" stroke-width="0.08" >10</text>
<text x="274.6" y="359.4" font-size="5.7" text-anchor="middle" fill="#222" stroke="#222" stroke-width="0.08" >52%</text>
<text x="293.0" y="359.4" font-size="5.7" text-anchor="middle" fill="#222" stroke="#222" stroke-width="0.08" >0</text>
<text x="314.9" y="359.4" font-size="5.7" text-anchor="middle" fill="#8a8a8a" stroke="#8a8a8a" stroke-width="0" >-</text>
<text x="253.1" y="367.9" font-size="5.7" text-anchor="middle" fill="#222" stroke="#222" stroke-width="0.08" >30</text>
<text x="274.6" y="367.9" font-size="5.7" text-anchor="middle" fill="#222" stroke="#222" stroke-width="0.08" >75%</text>
<text x="293.0" y="367.9" font-size="5.7" text-anchor="middle" fill="#222" stroke="#222" stroke-width="0.08" >0</text>
<text x="314.9" y="367.9" font-size="5.7" text-anchor="middle" fill="#8a8a8a" stroke="#8a8a8a" stroke-width="0" >-</text>
<text x="253.1" y="376.4" font-size="5.7" text-anchor="middle" fill="#222" stroke="#222" stroke-width="0.08" >40</text>
<text x="274.6" y="376.4" font-size="5.7" text-anchor="middle" fill="#222" stroke="#222" stroke-width="0.08" >97%</text>
<text x="293.0" y="376.4" font-size="5.7" text-anchor="middle" fill="#222" stroke="#222" stroke-width="0.08" >0</text>
<text x="314.9" y="376.4" font-size="5.7" text-anchor="middle" fill="#8a8a8a" stroke="#8a8a8a" stroke-width="0" >-</text>
<text x="253.1" y="384.8" font-size="5.7" text-anchor="middle" fill="#222" stroke="#222" stroke-width="0.08" >50</text>
<text x="274.6" y="384.8" font-size="5.7" text-anchor="middle" fill="#222" stroke="#222" stroke-width="0.08" >100%</text>
<text x="293.0" y="384.8" font-size="5.7" text-anchor="middle" fill="#222" stroke="#222" stroke-width="0.08" >5</text>
<text x="314.9" y="384.8" font-size="5.7" text-anchor="middle" fill="#222" stroke="#222" stroke-width="0.08" >+</text>
<text x="253.1" y="393.2" font-size="5.7" text-anchor="middle" fill="#222" stroke="#222" stroke-width="0.08" >60</text>
<text x="274.6" y="393.2" font-size="5.7" text-anchor="middle" fill="#222" stroke="#222" stroke-width="0.08" >100%</text>
<text x="293.0" y="393.2" font-size="5.7" text-anchor="middle" fill="#222" stroke="#222" stroke-width="0.08" >&gt;5</text>
<text x="314.9" y="393.2" font-size="5.7" text-anchor="middle" fill="#222" stroke="#222" stroke-width="0.08" >+</text>
<text x="371.8" y="325.4" font-size="5.8" text-anchor="middle" fill="#1a1a1a" stroke="#1a1a1a" stroke-width="0.22" font-weight="bold" >Plasma sample 2</text>
<text x="340.1" y="334.4" font-size="5.6" text-anchor="middle" fill="#1a1a1a" stroke="#1a1a1a" stroke-width="0.22" font-weight="bold" >µM FAC</text>
<text x="340.1" y="341.3" font-size="5.6" text-anchor="middle" fill="#1a1a1a" stroke="#1a1a1a" stroke-width="0.22" font-weight="bold" >added</text>
<text x="361.4" y="338.0" font-size="5.6" text-anchor="middle" fill="#1a1a1a" stroke="#1a1a1a" stroke-width="0.22" font-weight="bold" >Tf sat</text>
<text x="379.4" y="334.4" font-size="5.6" text-anchor="middle" fill="#1a1a1a" stroke="#1a1a1a" stroke-width="0.22" font-weight="bold" >µM</text>
<text x="379.4" y="341.3" font-size="5.6" text-anchor="middle" fill="#1a1a1a" stroke="#1a1a1a" stroke-width="0.22" font-weight="bold" >NTBI</text>
<text x="401.6" y="334.4" font-size="5.6" text-anchor="middle" fill="#1a1a1a" stroke="#1a1a1a" stroke-width="0.22" font-weight="bold" >Bacterial</text>
<text x="401.6" y="341.3" font-size="5.6" text-anchor="middle" fill="#1a1a1a" stroke="#1a1a1a" stroke-width="0.22" font-weight="bold" >growth</text>
<text x="340.1" y="351.0" font-size="5.7" text-anchor="middle" fill="#222" stroke="#222" stroke-width="0.08" >0</text>
<text x="361.4" y="351.0" font-size="5.7" text-anchor="middle" fill="#222" stroke="#222" stroke-width="0.08" >27%</text>
<text x="379.4" y="351.0" font-size="5.7" text-anchor="middle" fill="#222" stroke="#222" stroke-width="0.08" >0</text>
<text x="401.6" y="351.0" font-size="5.7" text-anchor="middle" fill="#8a8a8a" stroke="#8a8a8a" stroke-width="0" >-</text>
<text x="340.1" y="359.4" font-size="5.7" text-anchor="middle" fill="#222" stroke="#222" stroke-width="0.08" >10</text>
<text x="361.4" y="359.4" font-size="5.7" text-anchor="middle" fill="#222" stroke="#222" stroke-width="0.08" >46%</text>
<text x="379.4" y="359.4" font-size="5.7" text-anchor="middle" fill="#222" stroke="#222" stroke-width="0.08" >0</text>
<text x="401.6" y="359.4" font-size="5.7" text-anchor="middle" fill="#8a8a8a" stroke="#8a8a8a" stroke-width="0" >-</text>
<text x="340.1" y="367.9" font-size="5.7" text-anchor="middle" fill="#222" stroke="#222" stroke-width="0.08" >20</text>
<text x="361.4" y="367.9" font-size="5.7" text-anchor="middle" fill="#222" stroke="#222" stroke-width="0.08" >64%</text>
<text x="379.4" y="367.9" font-size="5.7" text-anchor="middle" fill="#222" stroke="#222" stroke-width="0.08" >0</text>
<text x="401.6" y="367.9" font-size="5.7" text-anchor="middle" fill="#8a8a8a" stroke="#8a8a8a" stroke-width="0" >-</text>
<text x="340.1" y="376.4" font-size="5.7" text-anchor="middle" fill="#222" stroke="#222" stroke-width="0.08" >30</text>
<text x="361.4" y="376.4" font-size="5.7" text-anchor="middle" fill="#222" stroke="#222" stroke-width="0.08" >68%</text>
<text x="379.4" y="376.4" font-size="5.7" text-anchor="middle" fill="#222" stroke="#222" stroke-width="0.08" >0</text>
<text x="401.6" y="376.4" font-size="5.7" text-anchor="middle" fill="#8a8a8a" stroke="#8a8a8a" stroke-width="0" >-</text>
<text x="340.1" y="384.8" font-size="5.7" text-anchor="middle" fill="#222" stroke="#222" stroke-width="0.08" >50</text>
<text x="361.4" y="384.8" font-size="5.7" text-anchor="middle" fill="#222" stroke="#222" stroke-width="0.08" >96%</text>
<text x="379.4" y="384.8" font-size="5.7" text-anchor="middle" fill="#222" stroke="#222" stroke-width="0.08" >~3</text>
<text x="401.6" y="384.8" font-size="5.7" text-anchor="middle" fill="#222" stroke="#222" stroke-width="0.08" >+</text>
<text x="340.1" y="393.2" font-size="5.7" text-anchor="middle" fill="#222" stroke="#222" stroke-width="0.08" >60</text>
<text x="361.4" y="393.2" font-size="5.7" text-anchor="middle" fill="#222" stroke="#222" stroke-width="0.08" >100%</text>
<text x="379.4" y="393.2" font-size="5.7" text-anchor="middle" fill="#222" stroke="#222" stroke-width="0.08" >3</text>
<text x="401.6" y="393.2" font-size="5.7" text-anchor="middle" fill="#222" stroke="#222" stroke-width="0.08" >+</text>
<text x="458.2" y="325.4" font-size="5.8" text-anchor="middle" fill="#1a1a1a" stroke="#1a1a1a" stroke-width="0.22" font-weight="bold" >Plasma sample 3</text>
<text x="427.2" y="334.4" font-size="5.6" text-anchor="middle" fill="#1a1a1a" stroke="#1a1a1a" stroke-width="0.22" font-weight="bold" >µM FAC</text>
<text x="427.2" y="341.3" font-size="5.6" text-anchor="middle" fill="#1a1a1a" stroke="#1a1a1a" stroke-width="0.22" font-weight="bold" >added</text>
<text x="448.6" y="338.0" font-size="5.6" text-anchor="middle" fill="#1a1a1a" stroke="#1a1a1a" stroke-width="0.22" font-weight="bold" >Tf sat</text>
<text x="466.6" y="334.4" font-size="5.6" text-anchor="middle" fill="#1a1a1a" stroke="#1a1a1a" stroke-width="0.22" font-weight="bold" >µM</text>
<text x="466.6" y="341.3" font-size="5.6" text-anchor="middle" fill="#1a1a1a" stroke="#1a1a1a" stroke-width="0.22" font-weight="bold" >NTBI</text>
<text x="488.2" y="334.4" font-size="5.6" text-anchor="middle" fill="#1a1a1a" stroke="#1a1a1a" stroke-width="0.22" font-weight="bold" >Bacterial</text>
<text x="488.2" y="341.3" font-size="5.6" text-anchor="middle" fill="#1a1a1a" stroke="#1a1a1a" stroke-width="0.22" font-weight="bold" >growth</text>
<text x="427.2" y="351.0" font-size="5.7" text-anchor="middle" fill="#222" stroke="#222" stroke-width="0.08" >0</text>
<text x="448.6" y="351.0" font-size="5.7" text-anchor="middle" fill="#222" stroke="#222" stroke-width="0.08" >47%</text>
<text x="466.6" y="351.0" font-size="5.7" text-anchor="middle" fill="#222" stroke="#222" stroke-width="0.08" >0</text>
<text x="488.2" y="351.0" font-size="5.7" text-anchor="middle" fill="#8a8a8a" stroke="#8a8a8a" stroke-width="0" >-</text>
<text x="427.2" y="359.4" font-size="5.7" text-anchor="middle" fill="#222" stroke="#222" stroke-width="0.08" >10</text>
<text x="448.6" y="359.4" font-size="5.7" text-anchor="middle" fill="#222" stroke="#222" stroke-width="0.08" >60%</text>
<text x="466.6" y="359.4" font-size="5.7" text-anchor="middle" fill="#222" stroke="#222" stroke-width="0.08" >0</text>
<text x="488.2" y="359.4" font-size="5.7" text-anchor="middle" fill="#8a8a8a" stroke="#8a8a8a" stroke-width="0" >-</text>
<text x="427.2" y="367.9" font-size="5.7" text-anchor="middle" fill="#222" stroke="#222" stroke-width="0.08" >20</text>
<text x="448.6" y="367.9" font-size="5.7" text-anchor="middle" fill="#222" stroke="#222" stroke-width="0.08" >72%</text>
<text x="466.6" y="367.9" font-size="5.7" text-anchor="middle" fill="#222" stroke="#222" stroke-width="0.08" >0</text>
<text x="488.2" y="367.9" font-size="5.7" text-anchor="middle" fill="#8a8a8a" stroke="#8a8a8a" stroke-width="0" >-</text>
<text x="427.2" y="376.4" font-size="5.7" text-anchor="middle" fill="#222" stroke="#222" stroke-width="0.08" >30</text>
<text x="448.6" y="376.4" font-size="5.7" text-anchor="middle" fill="#222" stroke="#222" stroke-width="0.08" >96%</text>
<text x="466.6" y="376.4" font-size="5.7" text-anchor="middle" fill="#222" stroke="#222" stroke-width="0.08" >&gt;5</text>
<text x="488.2" y="376.4" font-size="5.7" text-anchor="middle" fill="#222" stroke="#222" stroke-width="0.08" >+</text>
<text x="427.2" y="384.8" font-size="5.7" text-anchor="middle" fill="#222" stroke="#222" stroke-width="0.08" >40</text>
<text x="448.6" y="384.8" font-size="5.7" text-anchor="middle" fill="#222" stroke="#222" stroke-width="0.08" >100%</text>
<text x="466.6" y="384.8" font-size="5.7" text-anchor="middle" fill="#222" stroke="#222" stroke-width="0.08" >&gt;10</text>
<text x="488.2" y="384.8" font-size="5.7" text-anchor="middle" fill="#222" stroke="#222" stroke-width="0.08" >+</text>
<text x="427.2" y="393.2" font-size="5.7" text-anchor="middle" fill="#222" stroke="#222" stroke-width="0.08" >50</text>
<text x="448.6" y="393.2" font-size="5.7" text-anchor="middle" fill="#222" stroke="#222" stroke-width="0.08" >100%</text>
<text x="466.6" y="393.2" font-size="5.7" text-anchor="middle" fill="#222" stroke="#222" stroke-width="0.08" >&gt;10</text>
<text x="488.2" y="393.2" font-size="5.7" text-anchor="middle" fill="#222" stroke="#222" stroke-width="0.08" >+</text>
<!-- Panel F -->
<text x="7.7" y="422.7" font-size="12" text-anchor="start" fill="#000" stroke="#000" stroke-width="0.1" font-weight="bold" >F</text>
<path d="M54.2 432.2H160.9V538.5" fill="none" stroke="#161616" stroke-width="1.3"/>
<path d="M54.2 431.7V538.5H161.4" fill="none" stroke="#111" stroke-width="1.7"/>
<line x1="51.0" y1="536.4" x2="54.2" y2="536.4" stroke="#111" stroke-width="1.4" />
<text x="48.0" y="538.7" font-size="6.6" text-anchor="end" fill="#222" stroke="#222" stroke-width="0.12" >0,000</text>
<line x1="51.0" y1="515.56" x2="54.2" y2="515.56" stroke="#111" stroke-width="1.4" />
<text x="48.0" y="517.86" font-size="6.6" text-anchor="end" fill="#222" stroke="#222" stroke-width="0.12" >0,100</text>
<line x1="51.0" y1="494.72" x2="54.2" y2="494.72" stroke="#111" stroke-width="1.4" />
<text x="48.0" y="497.02" font-size="6.6" text-anchor="end" fill="#222" stroke="#222" stroke-width="0.12" >0,200</text>
<line x1="51.0" y1="473.88" x2="54.2" y2="473.88" stroke="#111" stroke-width="1.4" />
<text x="48.0" y="476.18" font-size="6.6" text-anchor="end" fill="#222" stroke="#222" stroke-width="0.12" >0,300</text>
<line x1="51.0" y1="453.04" x2="54.2" y2="453.04" stroke="#111" stroke-width="1.4" />
<text x="48.0" y="455.34" font-size="6.6" text-anchor="end" fill="#222" stroke="#222" stroke-width="0.12" >0,400</text>
<line x1="51.0" y1="432.2" x2="54.2" y2="432.2" stroke="#111" stroke-width="1.4" />
<text x="48.0" y="434.5" font-size="6.6" text-anchor="end" fill="#222" stroke="#222" stroke-width="0.12" >0,500</text>
<line x1="54.2" y1="538.5" x2="54.2" y2="541.7" stroke="#111" stroke-width="1.3" />
<text x="54.2" y="551.0" font-size="6.8" text-anchor="middle" fill="#222" stroke="#222" stroke-width="0.12" >0</text>
<line x1="71.98" y1="538.5" x2="71.98" y2="541.7" stroke="#111" stroke-width="1.3" />
<text x="71.98" y="551.0" font-size="6.8" text-anchor="middle" fill="#222" stroke="#222" stroke-width="0.12" >2</text>
<line x1="89.77" y1="538.5" x2="89.77" y2="541.7" stroke="#111" stroke-width="1.3" />
<text x="89.77" y="551.0" font-size="6.8" text-anchor="middle" fill="#222" stroke="#222" stroke-width="0.12" >4</text>
<line x1="107.55" y1="538.5" x2="107.55" y2="541.7" stroke="#111" stroke-width="1.3" />
<text x="107.55" y="551.0" font-size="6.8" text-anchor="middle" fill="#222" stroke="#222" stroke-width="0.12" >6</text>
<line x1="125.33" y1="538.5" x2="125.33" y2="541.7" stroke="#111" stroke-width="1.3" />
<text x="125.33" y="551.0" font-size="6.8" text-anchor="middle" fill="#222" stroke="#222" stroke-width="0.12" >8</text>
<line x1="143.12" y1="538.5" x2="143.12" y2="541.7" stroke="#111" stroke-width="1.3" />
<text x="143.12" y="551.0" font-size="6.8" text-anchor="middle" fill="#222" stroke="#222" stroke-width="0.12" >10</text>
<line x1="160.9" y1="538.5" x2="160.9" y2="541.7" stroke="#111" stroke-width="1.3" />
<text x="160.9" y="551.0" font-size="6.8" text-anchor="middle" fill="#222" stroke="#222" stroke-width="0.12" >12</text>
<text x="25.9" y="485.3" font-size="9.3" text-anchor="middle" fill="#111" stroke="#111" stroke-width="0.22" transform="rotate(-90 25.9 485.3)" textLength="37.5" lengthAdjust="spacingAndGlyphs" >OD 600nm</text>
<text x="107.3" y="562.3" font-size="9.3" text-anchor="middle" fill="#111" stroke="#111" stroke-width="0.22" textLength="45.8" lengthAdjust="spacingAndGlyphs" >Time (hours)</text>
<text x="57.6" y="441.0" font-size="6.8" text-anchor="start" fill="#000" stroke="#000" stroke-width="0.22" font-weight="bold" >FAC</text>
<line x1="93.2" y1="500" x2="93.2" y2="516" stroke="#939393" stroke-width="0.55" />
<line x1="95.8" y1="488" x2="95.8" y2="510" stroke="#939393" stroke-width="0.55" />
<line x1="98.3" y1="476" x2="98.3" y2="500" stroke="#939393" stroke-width="0.55" />
<line x1="100.9" y1="468" x2="100.9" y2="490" stroke="#939393" stroke-width="0.55" />
<line x1="103.4" y1="466" x2="103.4" y2="486" stroke="#939393" stroke-width="0.55" />
<line x1="106" y1="468" x2="106" y2="492" stroke="#939393" stroke-width="0.55" />
<line x1="108.5" y1="470" x2="108.5" y2="498" stroke="#939393" stroke-width="0.55" />
<line x1="111.1" y1="466" x2="111.1" y2="492" stroke="#939393" stroke-width="0.55" />
<line x1="113.7" y1="458" x2="113.7" y2="482" stroke="#939393" stroke-width="0.55" />
<line x1="116.3" y1="449" x2="116.3" y2="470" stroke="#939393" stroke-width="0.55" />
<line x1="118.8" y1="452" x2="118.8" y2="472" stroke="#939393" stroke-width="0.55" />
<line x1="121.4" y1="454" x2="121.4" y2="476" stroke="#939393" stroke-width="0.55" />
<line x1="123.9" y1="456" x2="123.9" y2="484" stroke="#939393" stroke-width="0.55" />
<line x1="126.5" y1="457" x2="126.5" y2="480" stroke="#939393" stroke-width="0.55" />
<line x1="129" y1="454" x2="129" y2="478" stroke="#939393" stroke-width="0.55" />
<line x1="131.6" y1="454" x2="131.6" y2="478" stroke="#939393" stroke-width="0.55" />
<line x1="134.2" y1="456" x2="134.2" y2="478" stroke="#939393" stroke-width="0.55" />
<line x1="136.7" y1="457" x2="136.7" y2="481" stroke="#939393" stroke-width="0.55" />
<line x1="139.3" y1="458" x2="139.3" y2="479" stroke="#939393" stroke-width="0.55" />
<line x1="141.8" y1="458" x2="141.8" y2="482" stroke="#939393" stroke-width="0.55" />
<line x1="143.3" y1="457" x2="143.3" y2="482" stroke="#939393" stroke-width="0.55" />
<line x1="99.6" y1="508" x2="99.6" y2="528" stroke="#949494" stroke-width="0.6" />
<line x1="102.1" y1="498" x2="102.1" y2="522" stroke="#949494" stroke-width="0.6" />
<line x1="104.69999999999999" y1="486" x2="104.69999999999999" y2="512" stroke="#949494" stroke-width="0.6" />
<line x1="107.3" y1="478" x2="107.3" y2="504" stroke="#949494" stroke-width="0.6" />
<line x1="109.89999999999999" y1="474" x2="109.89999999999999" y2="498" stroke="#949494" stroke-width="0.6" />
<line x1="122.8" y1="535.3" x2="122.8" y2="537.5" stroke="#a0a0a0" stroke-width="0.7" />
<line x1="125.5" y1="534.55" x2="125.5" y2="537.5" stroke="#a0a0a0" stroke-width="0.7" />
<line x1="128" y1="533.8" x2="128" y2="537.5" stroke="#a0a0a0" stroke-width="0.7" />
<line x1="130.6" y1="533.05" x2="130.6" y2="537.5" stroke="#a0a0a0" stroke-width="0.7" />
<line x1="133.2" y1="532.3" x2="133.2" y2="537.5" stroke="#a0a0a0" stroke-width="0.7" />
<line x1="135.7" y1="531.55" x2="135.7" y2="537.5" stroke="#a0a0a0" stroke-width="0.7" />
<line x1="138.3" y1="530.8" x2="138.3" y2="537.5" stroke="#a0a0a0" stroke-width="0.7" />
<line x1="140.8" y1="530.05" x2="140.8" y2="537.5" stroke="#a0a0a0" stroke-width="0.7" />
<line x1="143.2" y1="529.3" x2="143.2" y2="537.5" stroke="#a0a0a0" stroke-width="0.7" />
<path d="M54.6 536.5 L80 536.2 L96 535.9 L96 537.3 L54.6 538.2Z" fill="#333"/>
<path d="M96 536.6 L143.4 536.3" fill="none" stroke="#8c8c8c" stroke-width="1.3"/>
<path d="M84 536.0 L110 535.8 L125 535.4 L143.4 534.7" fill="none" stroke="#9a9a9a" stroke-width="0.8"/>
<path d="M54.6 536.8 C57.9 536.8 68.7 536.9 73.1 536.7 C77.5 536.5 77.3 536.1 79.2 535.5 C81.1 534.9 82.5 534.6 83.8 533.5 C85.1 532.4 85.4 531.4 86.2 529.6 C87.0 527.8 87.3 528.2 88.5 523.5 C89.7 518.8 91.4 510.7 93.1 503.5 C94.8 496.3 96.3 488.6 97.7 483.5 C99.1 478.4 99.8 476.8 100.8 475.0 C101.8 473.2 102.0 473.6 103.1 473.5 C104.2 473.4 105.5 474.3 106.9 474.2 C108.3 474.1 109.4 474.1 110.8 472.7 C112.2 471.3 113.4 468.4 114.6 466.5 C115.8 464.6 116.5 463.6 117.7 461.9 C118.9 460.2 120.3 457.7 121.5 457.3 C122.7 456.9 123.3 458.9 124.6 459.6 C125.9 460.3 126.7 460.8 128.5 461.2 C130.3 461.6 132.1 462.0 134.6 461.9 C137.1 461.8 140.9 460.7 142.3 460.4" fill="none" stroke="#0c0c0c" stroke-width="1.05"/>
<path d="M54.6 537.0 C57.5 537.0 66.8 537.1 70.8 536.8 C74.8 536.5 75.0 536.2 76.9 535.6 C78.8 535.0 80.3 534.6 81.5 533.5 C82.7 532.4 83.0 531.4 83.8 529.6 C84.6 527.8 84.6 528.2 85.8 523.5 C87.0 518.8 88.6 510.7 90.3 503.5 C92.0 496.3 93.5 488.6 95.1 483.5 C96.7 478.4 98.0 476.7 99.2 475.0 C100.4 473.3 100.5 473.3 101.8 473.9 C103.1 474.5 105.0 476.9 106.2 478.1 C107.4 479.3 107.4 481.1 108.5 480.4 C109.6 479.7 110.9 477.0 112.3 474.2 C113.7 471.4 115.0 467.1 116.2 465.0 C117.4 462.9 117.8 463.1 119.2 462.7 C120.6 462.3 122.1 462.6 123.8 462.7 C125.5 462.8 126.6 463.2 128.5 463.5 C130.4 463.8 132.1 464.3 134.6 464.2 C137.1 464.1 140.9 463.0 142.3 462.7" fill="none" stroke="#0c0c0c" stroke-width="1.05"/>
<path d="M54.6 537.2 C58.1 537.2 69.2 537.3 73.8 537.0 C78.4 536.7 78.1 536.4 80.0 535.8 C81.9 535.2 83.4 534.9 84.6 533.8 C85.8 532.7 86.0 531.7 86.9 529.9 C87.8 528.1 88.1 528.5 89.4 523.8 C90.7 519.1 92.5 511.0 94.2 503.8 C95.9 496.6 97.4 488.8 98.8 483.8 C100.2 478.8 100.8 477.7 101.8 476.2 C102.8 474.7 103.1 474.6 104.2 475.3 C105.3 476.0 106.4 479.6 107.7 480.1 C109.0 480.6 110.0 479.2 111.5 478.1 C113.0 477.0 114.5 474.2 116.2 474.2 C117.9 474.2 119.4 478.5 120.8 478.1 C122.2 477.7 122.6 473.8 123.8 471.9 C125.0 470.0 126.3 468.0 127.7 467.3 C129.1 466.6 130.0 468.0 131.5 468.1 C133.0 468.2 134.3 468.4 136.2 468.1 C138.1 467.8 141.2 466.8 142.3 466.5" fill="none" stroke="#0c0c0c" stroke-width="1.05"/>
<path d="M54.6 537.3 C59.0 537.2 73.7 537.2 79.2 537.0 C84.7 536.8 83.2 536.7 85.4 536.1 C87.6 535.5 89.4 535.5 91.5 533.5 C93.6 531.5 95.2 528.5 96.9 525.0 C98.6 521.5 99.4 518.6 100.8 514.2 C102.2 509.8 103.4 505.1 104.6 500.4 C105.8 495.7 106.6 491.7 107.7 488.1 C108.8 484.5 109.6 482.6 110.8 480.4 C112.0 478.2 113.2 476.9 114.6 475.8 C116.0 474.7 117.3 474.2 118.5 474.2 C119.7 474.2 120.5 476.1 121.5 475.8 C122.5 475.5 122.8 474.1 123.8 472.7 C124.8 471.3 125.6 469.2 126.9 468.1 C128.2 467.0 129.1 466.5 130.8 466.5 C132.5 466.5 134.1 468.2 136.2 468.1 C138.3 468.0 141.2 466.2 142.3 465.8" fill="none" stroke="#0c0c0c" stroke-width="1.05"/>
<text x="137.4" y="441.3" font-size="6.7" text-anchor="middle" fill="#000" stroke="#000" stroke-width="0.22" font-weight="bold" >60- 100 µM</text>
<text x="119.7" y="509.3" font-size="6.9" text-anchor="middle" fill="#000" stroke="#000" stroke-width="0.22" font-weight="bold" >40 µM</text>
<text x="132.3" y="527.2" font-size="6.5" text-anchor="start" fill="#8a8a8a" stroke="#8a8a8a" stroke-width="0.22" >0-20 µM</text>
<!-- Panel G -->
<text x="180.0" y="422.7" font-size="12" text-anchor="start" fill="#000" stroke="#000" stroke-width="0.1" font-weight="bold" >G</text>
<path d="M228.3 432.2H334.9V538.5" fill="none" stroke="#161616" stroke-width="1.3"/>
<path d="M228.3 431.7V538.5H335.4" fill="none" stroke="#111" stroke-width="1.7"/>
<line x1="225.10000000000002" y1="536.4" x2="228.3" y2="536.4" stroke="#111" stroke-width="1.4" />
<text x="222.10000000000002" y="538.7" font-size="6.6" text-anchor="end" fill="#222" stroke="#222" stroke-width="0.12" >0,000</text>
<line x1="225.10000000000002" y1="515.56" x2="228.3" y2="515.56" stroke="#111" stroke-width="1.4" />
<text x="222.10000000000002" y="517.86" font-size="6.6" text-anchor="end" fill="#222" stroke="#222" stroke-width="0.12" >0,100</text>
<line x1="225.10000000000002" y1="494.72" x2="228.3" y2="494.72" stroke="#111" stroke-width="1.4" />
<text x="222.10000000000002" y="497.02" font-size="6.6" text-anchor="end" fill="#222" stroke="#222" stroke-width="0.12" >0,200</text>
<line x1="225.10000000000002" y1="473.88" x2="228.3" y2="473.88" stroke="#111" stroke-width="1.4" />
<text x="222.10000000000002" y="476.18" font-size="6.6" text-anchor="end" fill="#222" stroke="#222" stroke-width="0.12" >0,300</text>
<line x1="225.10000000000002" y1="453.04" x2="228.3" y2="453.04" stroke="#111" stroke-width="1.4" />
<text x="222.10000000000002" y="455.34" font-size="6.6" text-anchor="end" fill="#222" stroke="#222" stroke-width="0.12" >0,400</text>
<line x1="225.10000000000002" y1="432.2" x2="228.3" y2="432.2" stroke="#111" stroke-width="1.4" />
<text x="222.10000000000002" y="434.5" font-size="6.6" text-anchor="end" fill="#222" stroke="#222" stroke-width="0.12" >0,500</text>
<line x1="228.3" y1="538.5" x2="228.3" y2="541.7" stroke="#111" stroke-width="1.3" />
<text x="228.3" y="551.0" font-size="6.8" text-anchor="middle" fill="#222" stroke="#222" stroke-width="0.12" >0</text>
<line x1="246.07" y1="538.5" x2="246.07" y2="541.7" stroke="#111" stroke-width="1.3" />
<text x="246.07" y="551.0" font-size="6.8" text-anchor="middle" fill="#222" stroke="#222" stroke-width="0.12" >2</text>
<line x1="263.83" y1="538.5" x2="263.83" y2="541.7" stroke="#111" stroke-width="1.3" />
<text x="263.83" y="551.0" font-size="6.8" text-anchor="middle" fill="#222" stroke="#222" stroke-width="0.12" >4</text>
<line x1="281.6" y1="538.5" x2="281.6" y2="541.7" stroke="#111" stroke-width="1.3" />
<text x="281.6" y="551.0" font-size="6.8" text-anchor="middle" fill="#222" stroke="#222" stroke-width="0.12" >6</text>
<line x1="299.37" y1="538.5" x2="299.37" y2="541.7" stroke="#111" stroke-width="1.3" />
<text x="299.37" y="551.0" font-size="6.8" text-anchor="middle" fill="#222" stroke="#222" stroke-width="0.12" >8</text>
<line x1="317.13" y1="538.5" x2="317.13" y2="541.7" stroke="#111" stroke-width="1.3" />
<text x="317.13" y="551.0" font-size="6.8" text-anchor="middle" fill="#222" stroke="#222" stroke-width="0.12" >10</text>
<line x1="334.9" y1="538.5" x2="334.9" y2="541.7" stroke="#111" stroke-width="1.3" />
<text x="334.9" y="551.0" font-size="6.8" text-anchor="middle" fill="#222" stroke="#222" stroke-width="0.12" >12</text>
<text x="199.3" y="485.3" font-size="9.3" text-anchor="middle" fill="#111" stroke="#111" stroke-width="0.22" transform="rotate(-90 199.3 485.3)" textLength="37.5" lengthAdjust="spacingAndGlyphs" >OD 600nm</text>
<text x="281" y="562.3" font-size="9.3" text-anchor="middle" fill="#111" stroke="#111" stroke-width="0.22" textLength="45.8" lengthAdjust="spacingAndGlyphs" >Time (hours)</text>
<text x="231.70000000000002" y="441.0" font-size="6.8" text-anchor="start" fill="#000" stroke="#000" stroke-width="0.22" font-weight="bold" >Holo-Tf</text>
<path d="M228.8 536.6 L270 536.0 L283 535.2 L317.6 534.7 L317.6 537.3 L228.8 538.0Z" fill="#505050"/>
<line x1="284.5" y1="534.0" x2="284.5" y2="535.4" stroke="#9a9a9a" stroke-width="0.7" />
<line x1="287.5" y1="533.9" x2="287.5" y2="535.4" stroke="#9a9a9a" stroke-width="0.7" />
<line x1="290.5" y1="533.8" x2="290.5" y2="535.4" stroke="#9a9a9a" stroke-width="0.7" />
<line x1="293.5" y1="533.7" x2="293.5" y2="535.4" stroke="#9a9a9a" stroke-width="0.7" />
<line x1="296.5" y1="533.6" x2="296.5" y2="535.4" stroke="#9a9a9a" stroke-width="0.7" />
<line x1="299.5" y1="533.5" x2="299.5" y2="535.4" stroke="#9a9a9a" stroke-width="0.7" />
<line x1="302.5" y1="533.4" x2="302.5" y2="535.4" stroke="#9a9a9a" stroke-width="0.7" />
<line x1="305.5" y1="533.3" x2="305.5" y2="535.4" stroke="#9a9a9a" stroke-width="0.7" />
<line x1="308.5" y1="533.2" x2="308.5" y2="535.4" stroke="#9a9a9a" stroke-width="0.7" />
<line x1="311.5" y1="533.1" x2="311.5" y2="535.4" stroke="#9a9a9a" stroke-width="0.7" />
<line x1="314.5" y1="533.0" x2="314.5" y2="535.4" stroke="#9a9a9a" stroke-width="0.7" />
<line x1="317.5" y1="532.9" x2="317.5" y2="535.4" stroke="#9a9a9a" stroke-width="0.7" />
<line x1="317.3" y1="530.6" x2="317.3" y2="534" stroke="#999" stroke-width="0.7" />
<text x="300.8" y="523.8" font-size="6.5" text-anchor="start" fill="#666" stroke="#666" stroke-width="0.22" >0-100 µM</text>
<!-- Panel H -->
<text x="354.8" y="422.7" font-size="12" text-anchor="start" fill="#000" stroke="#000" stroke-width="0.1" font-weight="bold" >H</text>
<path d="M402.7 432.2H509.1V538.5" fill="none" stroke="#161616" stroke-width="1.3"/>
<path d="M402.7 431.7V538.5H509.6" fill="none" stroke="#111" stroke-width="1.7"/>
<line x1="399.5" y1="536.4" x2="402.7" y2="536.4" stroke="#111" stroke-width="1.4" />
<text x="396.5" y="538.7" font-size="6.6" text-anchor="end" fill="#222" stroke="#222" stroke-width="0.12" >0,000</text>
<line x1="399.5" y1="515.56" x2="402.7" y2="515.56" stroke="#111" stroke-width="1.4" />
<text x="396.5" y="517.86" font-size="6.6" text-anchor="end" fill="#222" stroke="#222" stroke-width="0.12" >0,100</text>
<line x1="399.5" y1="494.72" x2="402.7" y2="494.72" stroke="#111" stroke-width="1.4" />
<text x="396.5" y="497.02" font-size="6.6" text-anchor="end" fill="#222" stroke="#222" stroke-width="0.12" >0,200</text>
<line x1="399.5" y1="473.88" x2="402.7" y2="473.88" stroke="#111" stroke-width="1.4" />
<text x="396.5" y="476.18" font-size="6.6" text-anchor="end" fill="#222" stroke="#222" stroke-width="0.12" >0,300</text>
<line x1="399.5" y1="453.04" x2="402.7" y2="453.04" stroke="#111" stroke-width="1.4" />
<text x="396.5" y="455.34" font-size="6.6" text-anchor="end" fill="#222" stroke="#222" stroke-width="0.12" >0,400</text>
<line x1="399.5" y1="432.2" x2="402.7" y2="432.2" stroke="#111" stroke-width="1.4" />
<text x="396.5" y="434.5" font-size="6.6" text-anchor="end" fill="#222" stroke="#222" stroke-width="0.12" >0,500</text>
<line x1="402.7" y1="538.5" x2="402.7" y2="541.7" stroke="#111" stroke-width="1.3" />
<text x="402.7" y="551.0" font-size="6.8" text-anchor="middle" fill="#222" stroke="#222" stroke-width="0.12" >0</text>
<line x1="420.43" y1="538.5" x2="420.43" y2="541.7" stroke="#111" stroke-width="1.3" />
<text x="420.43" y="551.0" font-size="6.8" text-anchor="middle" fill="#222" stroke="#222" stroke-width="0.12" >2</text>
<line x1="438.17" y1="538.5" x2="438.17" y2="541.7" stroke="#111" stroke-width="1.3" />
<text x="438.17" y="551.0" font-size="6.8" text-anchor="middle" fill="#222" stroke="#222" stroke-width="0.12" >4</text>
<line x1="455.9" y1="538.5" x2="455.9" y2="541.7" stroke="#111" stroke-width="1.3" />
<text x="455.9" y="551.0" font-size="6.8" text-anchor="middle" fill="#222" stroke="#222" stroke-width="0.12" >6</text>
<line x1="473.63" y1="538.5" x2="473.63" y2="541.7" stroke="#111" stroke-width="1.3" />
<text x="473.63" y="551.0" font-size="6.8" text-anchor="middle" fill="#222" stroke="#222" stroke-width="0.12" >8</text>
<line x1="491.37" y1="538.5" x2="491.37" y2="541.7" stroke="#111" stroke-width="1.3" />
<text x="491.37" y="551.0" font-size="6.8" text-anchor="middle" fill="#222" stroke="#222" stroke-width="0.12" >10</text>
<line x1="509.1" y1="538.5" x2="509.1" y2="541.7" stroke="#111" stroke-width="1.3" />
<text x="509.1" y="551.0" font-size="6.8" text-anchor="middle" fill="#222" stroke="#222" stroke-width="0.12" >12</text>
<text x="374.3" y="485.3" font-size="9.3" text-anchor="middle" fill="#111" stroke="#111" stroke-width="0.22" transform="rotate(-90 374.3 485.3)" textLength="37.5" lengthAdjust="spacingAndGlyphs" >OD 600nm</text>
<text x="456" y="562.3" font-size="9.3" text-anchor="middle" fill="#111" stroke="#111" stroke-width="0.22" textLength="45.8" lengthAdjust="spacingAndGlyphs" >Time (hours)</text>
<text x="408.0" y="441.0" font-size="6.8" text-anchor="start" fill="#000" stroke="#000" stroke-width="0.22" font-weight="bold" >Apo-Tf</text>
<path d="M403.2 536.9 L440 536.5 L470 535.4 L491.8 534.4 L491.8 537.4 L403.2 538.0Z" fill="#505050"/>
<line x1="434.0" y1="535.6" x2="434.0" y2="536.6" stroke="#a2a2a2" stroke-width="0.9" />
<line x1="437.0" y1="535.4300000000001" x2="437.0" y2="536.6" stroke="#a2a2a2" stroke-width="0.9" />
<line x1="440.0" y1="535.26" x2="440.0" y2="536.6" stroke="#a2a2a2" stroke-width="0.9" />
<line x1="443.0" y1="535.09" x2="443.0" y2="536.6" stroke="#a2a2a2" stroke-width="0.9" />
<line x1="446.0" y1="534.9200000000001" x2="446.0" y2="536.6" stroke="#a2a2a2" stroke-width="0.9" />
<line x1="449.0" y1="534.75" x2="449.0" y2="536.6" stroke="#a2a2a2" stroke-width="0.9" />
<line x1="452.0" y1="534.58" x2="452.0" y2="536.6" stroke="#a2a2a2" stroke-width="0.9" />
<line x1="455.0" y1="534.41" x2="455.0" y2="536.6" stroke="#a2a2a2" stroke-width="0.9" />
<line x1="458.0" y1="534.24" x2="458.0" y2="536.6" stroke="#a2a2a2" stroke-width="0.9" />
<line x1="461.0" y1="534.07" x2="461.0" y2="536.6" stroke="#a2a2a2" stroke-width="0.9" />
<line x1="464.0" y1="533.9" x2="464.0" y2="536.6" stroke="#a2a2a2" stroke-width="0.9" />
<line x1="467.0" y1="533.73" x2="467.0" y2="536.6" stroke="#a2a2a2" stroke-width="0.9" />
<line x1="470.0" y1="533.5600000000001" x2="470.0" y2="536.6" stroke="#a2a2a2" stroke-width="0.9" />
<line x1="473.0" y1="533.39" x2="473.0" y2="536.6" stroke="#a2a2a2" stroke-width="0.9" />
<line x1="476.0" y1="533.22" x2="476.0" y2="536.6" stroke="#a2a2a2" stroke-width="0.9" />
<line x1="479.0" y1="533.0500000000001" x2="479.0" y2="536.6" stroke="#a2a2a2" stroke-width="0.9" />
<line x1="482.0" y1="532.88" x2="482.0" y2="536.6" stroke="#a2a2a2" stroke-width="0.9" />
<line x1="485.0" y1="532.71" x2="485.0" y2="536.6" stroke="#a2a2a2" stroke-width="0.9" />
<line x1="488.0" y1="532.5400000000001" x2="488.0" y2="536.6" stroke="#a2a2a2" stroke-width="0.9" />
<line x1="491.0" y1="532.37" x2="491.0" y2="536.6" stroke="#a2a2a2" stroke-width="0.9" />
<line x1="491.5" y1="530.4" x2="491.5" y2="534" stroke="#999" stroke-width="0.7" />
<text x="475" y="523.8" font-size="6.5" text-anchor="start" fill="#666" stroke="#666" stroke-width="0.22" >0-100 µM</text>
<!-- Panel I -->
<text x="8.5" y="592" font-size="12" text-anchor="start" fill="#000" stroke="#000" stroke-width="0.1" font-weight="bold" >I</text>
<path d="M54.0 602.0H202.4V705.0H54.0Z" fill="none" stroke="#111" stroke-width="1.5"/>
<line x1="51.0" y1="705.0" x2="54.0" y2="705.0" stroke="#111" stroke-width="1.3" />
<text x="47.9" y="707.4" font-size="6.8" text-anchor="end" fill="#111" stroke="#111" stroke-width="0.22" >0</text>
<line x1="51.0" y1="679.2" x2="54.0" y2="679.2" stroke="#111" stroke-width="1.3" />
<text x="47.9" y="681.6" font-size="6.8" text-anchor="end" fill="#111" stroke="#111" stroke-width="0.22" >20</text>
<line x1="51.0" y1="653.4" x2="54.0" y2="653.4" stroke="#111" stroke-width="1.3" />
<text x="47.9" y="655.8" font-size="6.8" text-anchor="end" fill="#111" stroke="#111" stroke-width="0.22" >40</text>
<line x1="51.0" y1="627.6" x2="54.0" y2="627.6" stroke="#111" stroke-width="1.3" />
<text x="47.9" y="630.0" font-size="6.8" text-anchor="end" fill="#111" stroke="#111" stroke-width="0.22" >60</text>
<line x1="51.0" y1="601.8" x2="54.0" y2="601.8" stroke="#111" stroke-width="1.3" />
<text x="47.9" y="604.2" font-size="6.8" text-anchor="end" fill="#111" stroke="#111" stroke-width="0.22" >80</text>
<text x="34.7" y="652.9" font-size="8.8" text-anchor="middle" fill="#111" stroke="#111" stroke-width="0.22" transform="rotate(-90 34.7 652.9)" textLength="85.7" lengthAdjust="spacingAndGlyphs" >Iron concentration (µM)</text>
<rect x="69.9" y="623.9" width="12.3" height="81.1" fill="#fff" stroke="#222" stroke-width="1.15" />
<line x1="69.9" y1="628.1" x2="82.10000000000001" y2="628.1" stroke="#111" stroke-width="1.2" />
<circle cx="76.05000000000001" cy="628.1" r="2.25" fill="#111"/>
<line x1="70.4" y1="680.4" x2="81.9" y2="680.4" stroke="#111" stroke-width="1.4" stroke-dasharray="1.9 0.8"/>
<line x1="76.0" y1="705.0" x2="76.0" y2="708.0" stroke="#111" stroke-width="1.2" />
<text x="76.0" y="713.6" font-size="6.5" text-anchor="middle" fill="#111" stroke="#111" stroke-width="0.22" >1</text>
<rect x="90.9" y="613.2" width="12.3" height="91.8" fill="#fff" stroke="#222" stroke-width="1.15" />
<line x1="90.9" y1="634.3" x2="103.10000000000001" y2="634.3" stroke="#111" stroke-width="1.2" />
<circle cx="97.05000000000001" cy="634.3" r="2.25" fill="#111"/>
<line x1="91.4" y1="673.6" x2="102.9" y2="673.6" stroke="#111" stroke-width="1.4" stroke-dasharray="1.9 0.8"/>
<line x1="97.0" y1="705.0" x2="97.0" y2="708.0" stroke="#111" stroke-width="1.2" />
<text x="97.0" y="713.6" font-size="6.5" text-anchor="middle" fill="#111" stroke="#111" stroke-width="0.22" >2</text>
<rect x="112.0" y="625.5" width="12.3" height="79.5" fill="#fff" stroke="#222" stroke-width="1.15" />
<line x1="112.0" y1="623.0" x2="124.2" y2="623.0" stroke="#111" stroke-width="1.2" />
<circle cx="118.15" cy="623.0" r="2.25" fill="#111"/>
<line x1="112.5" y1="672.3" x2="124.0" y2="672.3" stroke="#111" stroke-width="1.4" stroke-dasharray="1.9 0.8"/>
<line x1="118.1" y1="705.0" x2="118.1" y2="708.0" stroke="#111" stroke-width="1.2" />
<text x="118.1" y="713.6" font-size="6.5" text-anchor="middle" fill="#111" stroke="#111" stroke-width="0.22" >3</text>
<rect x="133.1" y="620.3" width="12.3" height="84.7" fill="#fff" stroke="#222" stroke-width="1.15" />
<line x1="133.1" y1="619.5" x2="145.29999999999998" y2="619.5" stroke="#111" stroke-width="1.2" />
<circle cx="139.25" cy="619.5" r="2.25" fill="#111"/>
<line x1="133.6" y1="658.5" x2="145.1" y2="658.5" stroke="#111" stroke-width="1.4" stroke-dasharray="1.9 0.8"/>
<line x1="139.2" y1="705.0" x2="139.2" y2="708.0" stroke="#111" stroke-width="1.2" />
<text x="139.2" y="713.6" font-size="6.5" text-anchor="middle" fill="#111" stroke="#111" stroke-width="0.22" >4</text>
<rect x="154.2" y="641.8" width="12.3" height="63.2" fill="#fff" stroke="#222" stroke-width="1.15" />
<line x1="154.2" y1="639.5" x2="166.39999999999998" y2="639.5" stroke="#111" stroke-width="1.2" />
<circle cx="160.35" cy="639.5" r="2.25" fill="#111"/>
<line x1="154.7" y1="690.5" x2="166.2" y2="690.5" stroke="#111" stroke-width="1.4" stroke-dasharray="1.9 0.8"/>
<line x1="160.29999999999998" y1="705.0" x2="160.29999999999998" y2="708.0" stroke="#111" stroke-width="1.2" />
<text x="160.29999999999998" y="713.6" font-size="6.5" text-anchor="middle" fill="#111" stroke="#111" stroke-width="0.22" >5</text>
<rect x="175.3" y="628.0" width="12.3" height="77.0" fill="#fff" stroke="#222" stroke-width="1.15" />
<line x1="175.3" y1="625.0" x2="187.5" y2="625.0" stroke="#111" stroke-width="1.2" />
<circle cx="181.45000000000002" cy="625.0" r="2.25" fill="#111"/>
<line x1="175.8" y1="676.0" x2="187.3" y2="676.0" stroke="#111" stroke-width="1.4" stroke-dasharray="1.9 0.8"/>
<line x1="181.4" y1="705.0" x2="181.4" y2="708.0" stroke="#111" stroke-width="1.2" />
<text x="181.4" y="713.6" font-size="6.5" text-anchor="middle" fill="#111" stroke="#111" stroke-width="0.22" >6</text>
<text x="128.5" y="726.6" font-size="9.3" text-anchor="middle" fill="#111" stroke="#111" stroke-width="0.22" textLength="85" lengthAdjust="spacingAndGlyphs" >Human plasma samples</text>
<line x1="211.8" y1="639.5" x2="223.8" y2="639.5" stroke="#111" stroke-width="1.3" />
<circle cx="217.8" cy="639.5" r="2.1" fill="#111"/>
<rect x="211.9" y="650.2" width="12.2" height="6.7" fill="#fff" stroke="#111" stroke-width="1.3" />
<line x1="211.8" y1="666.8" x2="224.2" y2="666.8" stroke="#111" stroke-width="1.5" stroke-dasharray="1.9 0.75"/>
<text x="227.6" y="641.7" font-size="6.5" text-anchor="start" fill="#111" stroke="#111" stroke-width="0.1" textLength="156.8" lengthAdjust="spacingAndGlyphs" >Minimum iron concentration for bacterial growth (µM)</text>
<text x="227.6" y="655.2" font-size="6.5" text-anchor="start" fill="#111" stroke="#111" stroke-width="0.1" textLength="113.6" lengthAdjust="spacingAndGlyphs" >Iron concentration (µM) at Tf sat 100%</text>
<text x="227.6" y="668.6" font-size="6.5" text-anchor="start" fill="#111" stroke="#111" stroke-width="0.1" textLength="110" lengthAdjust="spacingAndGlyphs" >Initial plasma iron concentration (µM)</text>
</svg>
<svg width="520" height="736" viewBox="0 0 520 736"><rect x="0" y="0" width="520" height="1.15" fill="#000"/><rect x="0" y="0" width="1.25" height="736" fill="#000"/><rect x="518.5" y="0" width="1.5" height="736" fill="#000"/><rect x="0" y="734.5" width="520" height="1.5" fill="#000"/></svg>
</body></html>
